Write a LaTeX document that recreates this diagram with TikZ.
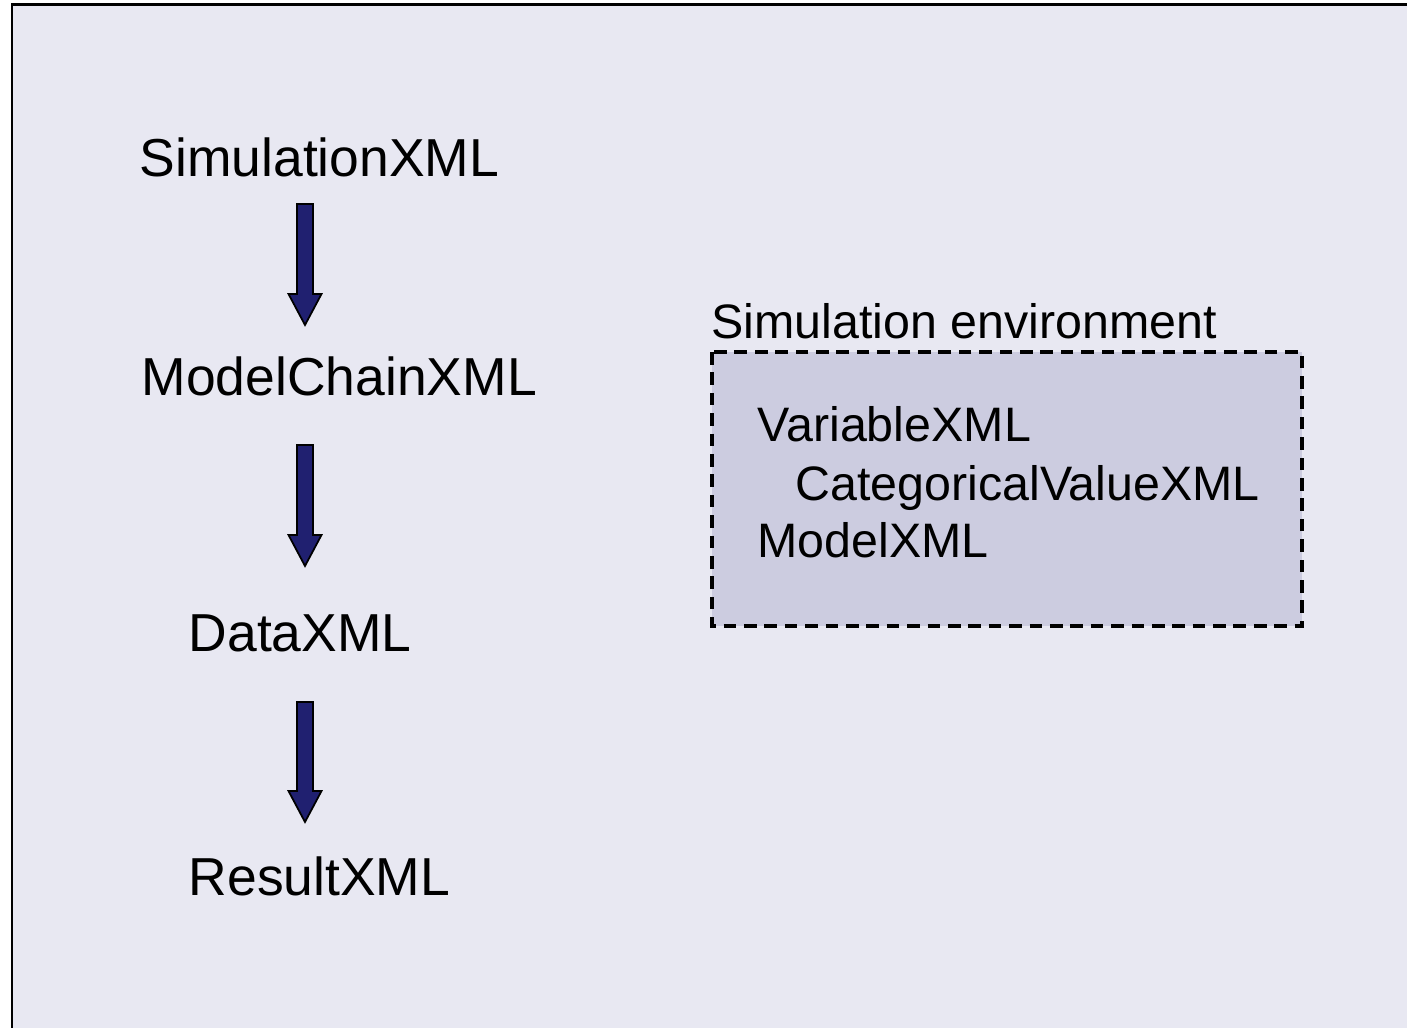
\documentclass[tikz,border=0pt]{standalone}
\usepackage{fontspec}
\setmainfont{Liberation Sans}
\usetikzlibrary{calc}

\definecolor{slidebg}{RGB}{232,232,242}
\definecolor{envfill}{RGB}{204,204,224}
\definecolor{arrownavy}{RGB}{32,32,112}

% block arrow from #1 (top of shaft) to #2 (tip)
\newcommand{\blockarrow}[2]{%
  \filldraw[fill=arrownavy,draw=black,line width=0.5pt,line join=miter]
    ($(#1)+(-8,0)$) -- ($(#2)+(-8,-31)$) -- ($(#2)+(-16.5,-31)$) -- (#2)
    -- ($(#2)+(16.5,-31)$) -- ($(#2)+(8,-31)$) -- ($(#1)+(8,0)$) -- cycle;}

\begin{document}
\begin{tikzpicture}[x=0.01cm,y=-0.01cm,
    chain/.style={anchor=base west,inner sep=0pt,font=\fontsize{15.2pt}{17pt}\selectfont},
    envtext/.style={anchor=base west,inner sep=0pt,font=\fontsize{13.75pt}{16pt}\selectfont},
    envbox/.style={fill=envfill,draw=black,line width=0.9pt,dash pattern=on 3.6pt off 2.2pt}]
    \useasboundingbox (0,0) rectangle (1407,1028);
    \draw[fill=slidebg,line width=0.85pt] (12,5) rectangle (1430,1050);

    % the chain of files
    \node[chain] (sim) at (139,177) {SimulationXML};
    \node[chain] (chn) at (141,396) {ModelChainXML};
    \node[chain] (dat) at (188,651) {DataXML};
    \node[chain] (res) at (188,895) {ResultXML};

    \coordinate (a1s) at (305,204); \coordinate (a1e) at (305,325);
    \coordinate (a2s) at (305,445); \coordinate (a2e) at (305,566);
    \coordinate (a3s) at (305,702); \coordinate (a3e) at (305,822);
    \blockarrow{a1s}{a1e}
    \blockarrow{a2s}{a2e}
    \blockarrow{a3s}{a3e}

    % simulation environment
    \draw[envbox] (712,352) rectangle (1302,626);
    \node[envtext] (env) at (711,339) {Simulation environment};
    \node[envtext] (var) at (757,442) {VariableXML};
    \node[envtext] (cat) at (795,501) {CategoricalValueXML};
    \node[envtext] (mod) at (757,557) {ModelXML};
\end{tikzpicture}
\end{document}
